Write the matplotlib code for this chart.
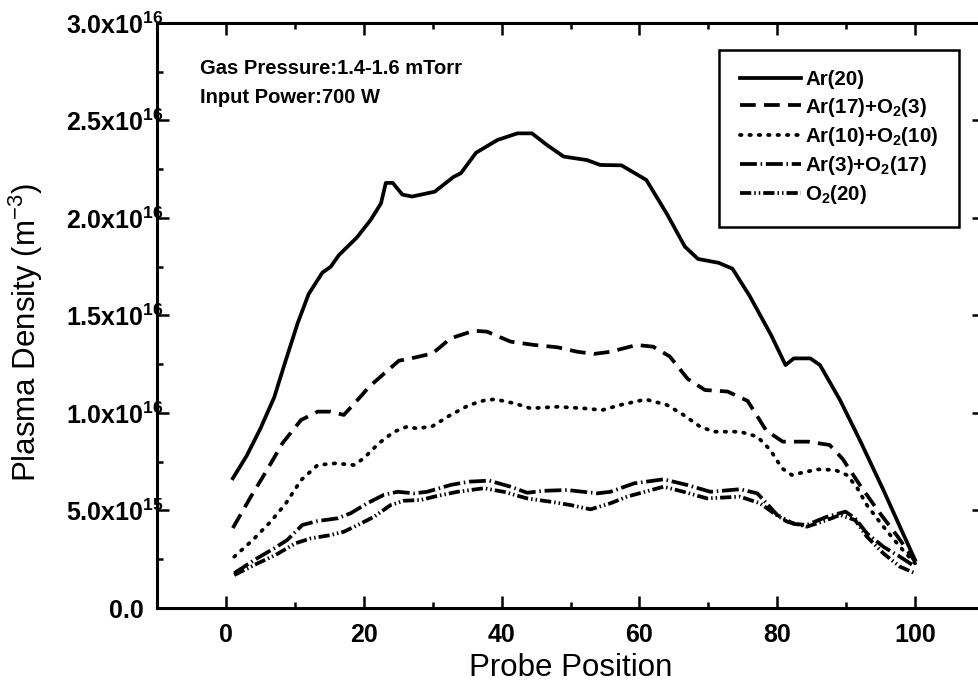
import matplotlib
matplotlib.use('Agg')
import matplotlib.pyplot as plt
import matplotlib.transforms as mtransforms
from matplotlib.ticker import MultipleLocator, FuncFormatter
import math

plt.rcParams['font.family'] = ['Liberation Sans', 'DejaVu Sans']
plt.rcParams['mathtext.default'] = 'regular'

# ---- data (density in units of 1e16 m^-3) ----
ar20_x = [1, 3, 5, 7, 8.5, 10.4, 12, 14, 15.2, 16.4, 19, 21, 22.5, 23.2, 24.2, 25.6, 27,
          30.3, 33, 34.1, 36.3, 39.4, 42.3, 44.4, 46.6, 49, 52.4, 54.3, 57.4, 61, 64,
          66.6, 68.5, 71.5, 73.5, 76, 79.1, 81.2, 82.4, 84.8, 86.2, 89.1, 92, 95.4, 97.8, 100]
ar20_y = [0.665, 0.78, 0.92, 1.08, 1.25, 1.46, 1.61, 1.72, 1.75, 1.81, 1.90, 1.99, 2.075,
          2.18, 2.18, 2.12, 2.11, 2.135, 2.21, 2.23, 2.335, 2.40, 2.434, 2.434, 2.374, 2.315,
          2.297, 2.272, 2.27, 2.195, 2.02, 1.853, 1.79, 1.77, 1.74, 1.60, 1.40, 1.246, 1.28,
          1.28, 1.246, 1.067, 0.86, 0.605, 0.417, 0.246]

ar17_x = [1, 3.6, 6, 8.2, 10.9, 13.3, 15.2, 17.1, 19.1, 20.8, 23.2, 25.1, 27.5, 30, 32.6,
          36, 37.9, 41.3, 44.7, 48.1, 51, 53.4, 55.8, 59.6, 62, 64.4, 67, 69.5, 72.8, 75.7,
          78.4, 80.8, 84.5, 87.6, 89.5, 92, 94.6, 97.5, 100]
ar17_y = [0.41, 0.57, 0.71, 0.845, 0.964, 1.007, 1.007, 0.99, 1.067, 1.135, 1.21, 1.268,
          1.285, 1.306, 1.383, 1.422, 1.417, 1.366, 1.349, 1.337, 1.314, 1.303, 1.314,
          1.349, 1.34, 1.29, 1.175, 1.118, 1.11, 1.062, 0.91, 0.853, 0.853, 0.836, 0.764,
          0.63, 0.50, 0.365, 0.238]

ar10_x = [1.2, 3.9, 6.5, 8.7, 10.9, 13.3, 15.9, 18.6, 20, 22.2, 24.4, 26.3, 27.8, 30, 32.6,
          35.3, 37.7, 39.1, 41.8, 44.2, 48.1, 51.9, 54.6, 57.2, 60.9, 64, 66.4, 68.8, 70.8,
          74.6, 77.1, 79, 80.7, 82.1, 85.8, 88.4, 90.1, 91.5, 93, 95.4, 97.8, 100]
ar10_y = [0.263, 0.349, 0.443, 0.537, 0.656, 0.733, 0.742, 0.733, 0.768, 0.845, 0.904,
          0.93, 0.92, 0.933, 0.99, 1.041, 1.067, 1.07, 1.05, 1.024, 1.032, 1.024, 1.015,
          1.041, 1.07, 1.041, 0.99, 0.93, 0.904, 0.904, 0.879, 0.81, 0.716, 0.682, 0.711,
          0.708, 0.682, 0.622, 0.528, 0.417, 0.314, 0.229]

ar3_x = [1.2, 4.1, 7, 8.9, 11.1, 13.3, 16.2, 18.1, 20.5, 22.9, 24.9, 27.3, 29.2, 32.6, 35.3,
         38.2, 41.3, 43.7, 46.1, 49.5, 53.9, 55.8, 59.2, 63.5, 66.9, 70.3, 74.6, 77.1, 78,
         80, 82.4, 84.3, 87.2, 89.9, 91.3, 93, 95.4, 97.8, 100]
ar3_y = [0.178, 0.246, 0.306, 0.349, 0.426, 0.446, 0.46, 0.486, 0.537, 0.58, 0.596, 0.588,
         0.596, 0.631, 0.648, 0.653, 0.622, 0.591, 0.601, 0.605, 0.588, 0.596, 0.639, 0.66,
         0.631, 0.596, 0.609, 0.588, 0.554, 0.477, 0.431, 0.426, 0.468, 0.494, 0.46, 0.383,
         0.314, 0.263, 0.212]

o2_x = [1.2, 4.6, 7.2, 10.1, 12.3, 15.2, 17.1, 19.6, 21.5, 23.9, 25.8, 28.3, 30.2, 33.6,
        37.4, 40.3, 43.7, 47.1, 50, 52.9, 55.8, 58.2, 63.5, 66.4, 69.8, 74.6, 77.5, 79.5,
        81.4, 84.3, 87.2, 89.1, 91.3, 93, 95.4, 97.8, 100]
o2_y = [0.169, 0.229, 0.272, 0.332, 0.357, 0.374, 0.391, 0.434, 0.468, 0.528, 0.55, 0.554,
        0.571, 0.596, 0.614, 0.596, 0.562, 0.545, 0.528, 0.506, 0.537, 0.571, 0.622, 0.596,
        0.562, 0.571, 0.537, 0.486, 0.443, 0.417, 0.451, 0.477, 0.451, 0.366, 0.28, 0.212,
        0.178]

labels = ['Ar(20)', 'Ar(17)+O$_2$(3)', 'Ar(10)+O$_2$(10)', 'Ar(3)+O$_2$(17)', 'O$_2$(20)']
series = [(ar20_x, ar20_y), (ar17_x, ar17_y), (ar10_x, ar10_y), (ar3_x, ar3_y), (o2_x, o2_y)]
styles = [dict(linestyle='-'),
          dict(linestyle=(0, (4.2, 2.2))),
          dict(linestyle=(0, (0.4, 2.1)), dash_capstyle='round'),
          dict(linestyle=(0, (4.5, 1.0, 0.4, 1.0))),
          dict(linestyle=(0, (3.0, 0.8, 0.4, 0.8, 0.4, 0.8)))]

fig = plt.figure(figsize=(9.79, 6.82), dpi=100)
ax = fig.add_axes([0.1604, 0.1085, 0.8447, 0.8578])

for (xs, ys), lab, st in zip(series, labels, styles):
    ax.plot(xs, [v * 1e16 for v in ys], color='black', lw=2.7, label=lab,
            solid_joinstyle='round', **st)

ax.set_xlim(-10, 110)
ax.set_ylim(0, 3.0e16)
ax.xaxis.set_major_locator(MultipleLocator(20))
ax.xaxis.set_minor_locator(MultipleLocator(10))
ax.yaxis.set_major_locator(MultipleLocator(0.5e16))
ax.yaxis.set_minor_locator(MultipleLocator(0.25e16))


def yfmt(v, pos):
    if abs(v) < 1e10:
        return '0.0'
    if v < 0:
        return ''
    e = int(math.floor(math.log10(v) + 1e-9))
    m = v / 10 ** e
    return f'{m:.1f}x10$^{{{e}}}$'


ax.yaxis.set_major_formatter(FuncFormatter(yfmt))

for s in ax.spines.values():
    s.set_linewidth(2.2)

ax.tick_params(which='both', direction='in', top=True, right=True, width=1.8)
ax.tick_params(which='major', length=8.5)
ax.tick_params(which='minor', length=4)
ax.tick_params(axis='x', which='major', pad=11, labelsize=18)
ax.tick_params(axis='y', which='major', pad=-5, labelsize=18)
for t in ax.get_xticklabels() + ax.get_yticklabels():
    t.set_fontweight('bold')

ax.set_xlabel('Probe Position', fontsize=22.5, labelpad=4)
ax.set_ylabel('Plasma Density (m$^{-3}$)', fontsize=22.5, labelpad=4)
ax.yaxis.set_label_coords(-0.136, 0.47)

ax.text(0.052, 0.923, 'Gas Pressure:1.4-1.6 mTorr', transform=ax.transAxes,
        fontsize=14.5, fontweight='bold', va='center', ha='left')
ax.text(0.052, 0.873, 'Input Power:700 W', transform=ax.transAxes,
        fontsize=14.5, fontweight='bold', va='center', ha='left')

leg = ax.legend(loc='upper right', bbox_to_anchor=(0.970, 0.954),
                prop={'weight': 'bold', 'size': 14.8}, frameon=True, fancybox=False,
                edgecolor='black', framealpha=1, handlelength=3.0, handletextpad=0.2,
                borderpad=1.0, labelspacing=0.3, borderaxespad=0)
leg.get_frame().set_linewidth(1.8)

# shift the "0.0" label left so that it clears the spine (no superscript on it)
fig.canvas.draw()
shift = mtransforms.ScaledTranslation(-14.5 / 72, 0, fig.dpi_scale_trans)
for tick in ax.yaxis.get_major_ticks():
    if abs(tick.get_loc()) < 1e10:
        tick.label1.set_transform(tick.label1.get_transform() + shift)

fig.savefig('out.png', dpi=100)
